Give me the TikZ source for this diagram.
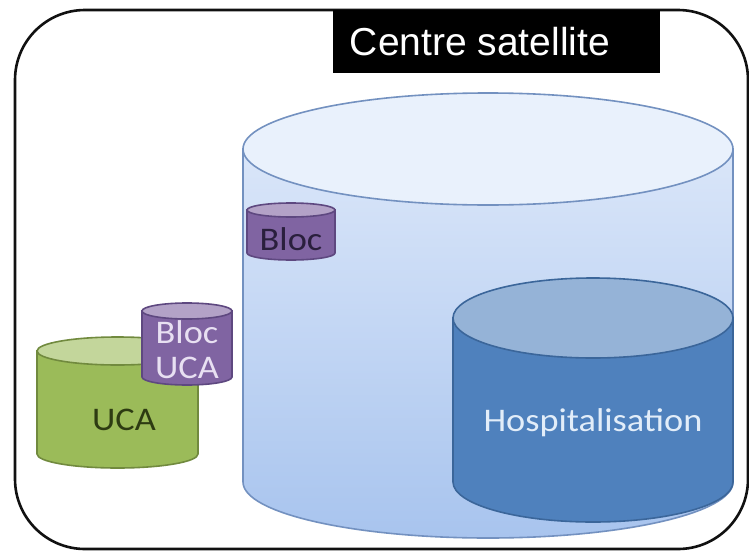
\documentclass[tikz,border=0pt]{standalone}
\usepackage{fontspec}
\setmainfont{Carlito}
\newfontfamily\titlefont{Liberation Sans}
\definecolor{frameblack}{HTML}{111111}
\definecolor{bigline}{HTML}{7391C0}
\definecolor{bigtop}{HTML}{E9F1FC}
\definecolor{bigupper}{HTML}{DAE6F9}
\definecolor{biglower}{HTML}{A8C4EE}
\definecolor{hospbody}{HTML}{4F81BD}
\definecolor{hosptop}{HTML}{95B3D7}
\definecolor{hospline}{HTML}{3B669A}
\definecolor{hosptext}{HTML}{E2EDF9}
\definecolor{blocbody}{HTML}{8064A2}
\definecolor{bloctop}{HTML}{B3A2C7}
\definecolor{blocline}{HTML}{5E4880}
\definecolor{blocdark}{HTML}{2A1F3D}
\definecolor{bloclight}{HTML}{E8E0F2}
\definecolor{ucabody}{HTML}{9BBB59}
\definecolor{ucatop}{HTML}{C3D69B}
\definecolor{ucaline}{HTML}{718A3E}
\definecolor{ucatext}{HTML}{2D3B12}
% cylinder: #1 centre x, #2 top-ellipse y, #3 bottom-ellipse y, #4 x radius, #5 y radius,
% #6 body options, #7 top colour, #8 border colour
\newcommand\cylinderbody[8]{%
  \path[#6,draw=#8,line width=1.6pt]
    (#1-#4,#2) -- (#1-#4,#3)
    arc[start angle=180,end angle=0,x radius=#4,y radius=#5]
    -- (#1+#4,#2) -- cycle;
  \path[fill=#7,draw=#8,line width=1.6pt] (#1,#2) ellipse[x radius=#4,y radius=#5];
}
\tikzset{
  cyllabel/.style={font=\fontsize{33}{35}\selectfont,xscale=1.1,inner sep=0pt,align=center},
}
\begin{document}
\begin{tikzpicture}[x=1pt,y=-1pt]
\useasboundingbox (0,0) rectangle (749,554);
\fill[white] (0,0) rectangle (749,554);

% outer frame of the site
\draw[frameblack,line width=2.6pt,rounded corners=70pt] (15,10) rectangle (748,549);

% title banner
\fill[black] (333,10) rectangle (660,73);
\node[text=white,font=\titlefont\fontsize{39}{40}\selectfont,inner sep=0pt] (title) at (480,42) {Centre satellite};

% main building
\cylinderbody{488}{149}{482}{245}{56}{top color=bigupper,bottom color=biglower}{bigtop}{bigline}

% hospitalisation unit
\cylinderbody{593}{318}{482}{140}{40}{fill=hospbody}{hosptop}{hospline}
\node[cyllabel,text=hosptext] (hosp) at (593,423) {Hospitalisation};

% operating block inside the main building
\cylinderbody{291}{210}{253}{44}{7}{fill=blocbody}{bloctop}{blocline}
\node[cyllabel,text=blocdark] (bloc) at (291,239) {Bloc};

% ambulatory unit
\cylinderbody{117.5}{351}{454}{80.5}{14}{fill=ucabody}{ucatop}{ucaline}
\node[cyllabel,text=ucatext] (uca) at (124,420) {UCA};

% ambulatory operating block
\cylinderbody{187}{311}{377}{45}{8}{fill=blocbody}{bloctop}{blocline}
\node[cyllabel,text=bloclight] (blocuca) at (187,350) {Bloc\\UCA};
\end{tikzpicture}
\end{document}
